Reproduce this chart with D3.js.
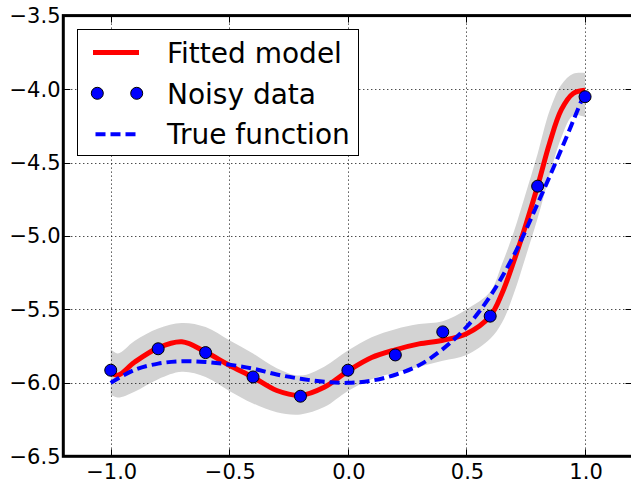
<!DOCTYPE html>
<html>
<head>
<meta charset="utf-8">
<script src="https://cdn.jsdelivr.net/npm/d3@7"></script>
<style>
  html, body { margin: 0; padding: 0; background: #fff; }
  svg { display: block; font-family: "DejaVu Sans", sans-serif; }
</style>
</head>
<body>
<script>
// noisy observations
var dataX = [-1.0, -0.8, -0.6, -0.4, -0.2, 0.0, 0.2, 0.4, 0.6, 0.8, 1.0];
var dataY = [-5.914, -5.768, -5.794, -5.960, -6.091, -5.914, -5.810, -5.653, -5.546, -4.661, -4.052];

// fitted model + band
var fitX = [-1.0, -0.97, -0.9, -0.8, -0.7, -0.6, -0.5, -0.4, -0.3, -0.2, -0.1, 0.0, 0.1, 0.2, 0.3, 0.4, 0.5, 0.6, 0.65, 0.7, 0.75, 0.8, 0.85, 0.9, 0.95, 1.0];
var fitY = [-5.930, -5.948, -5.860, -5.762, -5.721, -5.790, -5.880, -5.962, -6.052, -6.085, -6.030, -5.920, -5.828, -5.775, -5.735, -5.710, -5.665, -5.545, -5.390, -5.170, -4.925, -4.660, -4.370, -4.140, -4.030, -4.008];
var bandUpper = [-5.770, -5.800, -5.715, -5.630, -5.592, -5.620, -5.710, -5.800, -5.900, -5.950, -5.890, -5.780, -5.690, -5.635, -5.600, -5.580, -5.500, -5.380, -5.190, -4.970, -4.710, -4.440, -4.150, -3.970, -3.895, -3.890];
var bandLower = [-6.080, -6.100, -6.060, -5.975, -5.925, -5.960, -6.055, -6.140, -6.200, -6.215, -6.165, -6.055, -5.975, -5.930, -5.890, -5.850, -5.810, -5.700, -5.590, -5.390, -5.140, -4.880, -4.590, -4.330, -4.180, -4.190];

// true function
var trueX = [-1.0, -0.9, -0.8, -0.7, -0.6, -0.5, -0.4, -0.3, -0.2, -0.1, 0.0, 0.1, 0.2, 0.3, 0.4, 0.5, 0.6, 0.7, 0.8, 0.9, 1.0];
var trueY = [-6.000, -5.912, -5.869, -5.853, -5.858, -5.876, -5.903, -5.943, -5.972, -5.993, -6.000, -5.985, -5.945, -5.880, -5.770, -5.620, -5.410, -5.130, -4.780, -4.410, -4.018];

var xTicks = [-1.0, -0.5, 0.0, 0.5, 1.0];
var yTicks = [-6.5, -6.0, -5.5, -5.0, -4.5, -4.0, -3.5];
var legendLabels = ["Fitted model", "Noisy data", "True function"];

var W = 631, H = 481;
var svg = d3.select("body").append("svg")
    .attr("width", W)
    .attr("height", H);

var x = d3.scaleLinear().domain([-1.2, 1.2]).range([63.3, 632.5]);
var y = d3.scaleLinear().domain([-6.5, -3.5]).range([456.3, 15.6]);
var x0 = x.range()[0], x1 = x.range()[1];
var y0 = y.range()[0], y1 = y.range()[1];

function fmt(v) {
    return d3.format(".1f")(v).replace("-", "\u2212");
}

// band
var band = d3.area()
    .x(function (d, i) { return x(fitX[i]); })
    .y0(function (d, i) { return y(bandLower[i]); })
    .y1(function (d, i) { return y(bandUpper[i]); })
    .curve(d3.curveCatmullRom);
svg.append("path")
    .datum(fitX)
    .attr("d", band)
    .attr("fill", "#d3d3d3");

// grid
var grid = svg.append("g").attr("stroke", "#000").attr("stroke-width", 1)
    .attr("stroke-dasharray", "1,3");
xTicks.forEach(function (t) {
    grid.append("line")
        .attr("x1", Math.round(x(t)) + 0.5).attr("x2", Math.round(x(t)) + 0.5)
        .attr("y1", y1).attr("y2", y0);
});
yTicks.forEach(function (t) {
    grid.append("line")
        .attr("x1", x0).attr("x2", x1)
        .attr("y1", Math.round(y(t)) + 0.5).attr("y2", Math.round(y(t)) + 0.5);
});

// fitted line
var fitLine = d3.line()
    .x(function (d, i) { return x(fitX[i]); })
    .y(function (d) { return y(d); })
    .curve(d3.curveCatmullRom);
svg.append("path")
    .datum(fitY)
    .attr("d", fitLine)
    .attr("fill", "none")
    .attr("stroke", "#ff0000")
    .attr("stroke-width", 5);

// true function, dashed
var trueLine = d3.line()
    .x(function (d, i) { return x(trueX[i]); })
    .y(function (d) { return y(d); })
    .curve(d3.curveCatmullRom);
svg.append("path")
    .datum(trueY)
    .attr("d", trueLine)
    .attr("fill", "none")
    .attr("stroke", "#0000ff")
    .attr("stroke-width", 4)
    .attr("stroke-dasharray", "10,5");

// noisy points
svg.selectAll(".pt")
    .data(dataY)
    .enter()
    .append("circle")
    .attr("class", "pt")
    .attr("cx", function (d, i) { return x(dataX[i]); })
    .attr("cy", function (d) { return y(d); })
    .attr("r", 6)
    .attr("fill", "#0000ff")
    .attr("stroke", "#000")
    .attr("stroke-width", 1);

// ticks (inward, all four sides)
var ticks = svg.append("g").attr("stroke", "#000").attr("stroke-width", 1);
xTicks.forEach(function (t) {
    var px = Math.round(x(t)) + 0.5;
    ticks.append("line").attr("x1", px).attr("x2", px).attr("y1", y0).attr("y2", y0 - 7);
    ticks.append("line").attr("x1", px).attr("x2", px).attr("y1", y1).attr("y2", y1 + 7);
});
yTicks.forEach(function (t) {
    var py = Math.round(y(t)) + 0.5;
    ticks.append("line").attr("x1", x0).attr("x2", x0 + 7).attr("y1", py).attr("y2", py);
    ticks.append("line").attr("x1", x1).attr("x2", x1 - 7).attr("y1", py).attr("y2", py);
});

// spines
svg.append("rect")
    .attr("x", x0).attr("y", y1)
    .attr("width", x1 - x0).attr("height", y0 - y1)
    .attr("fill", "none")
    .attr("stroke", "#000")
    .attr("stroke-width", 3);

// tick labels
svg.selectAll(".xl")
    .data(xTicks)
    .enter()
    .append("text")
    .attr("class", "xl")
    .attr("x", function (d) { return x(d) + 1; })
    .attr("y", 478.5)
    .attr("text-anchor", "middle")
    .attr("font-size", 21)
    .text(fmt);
svg.selectAll(".yl")
    .data(yTicks)
    .enter()
    .append("text")
    .attr("class", "yl")
    .attr("x", 60.5)
    .attr("y", function (d) { return y(d) + 7.5; })
    .attr("text-anchor", "end")
    .attr("font-size", 21)
    .text(fmt);

// legend
var lg = svg.append("g");
lg.append("rect")
    .attr("x", 77.5).attr("y", 29.5)
    .attr("width", 281).attr("height", 126)
    .attr("fill", "#fff")
    .attr("stroke", "#000")
    .attr("stroke-width", 1);
lg.append("line")
    .attr("x1", 93).attr("x2", 139).attr("y1", 52.5).attr("y2", 52.5)
    .attr("stroke", "#ff0000").attr("stroke-width", 5);
[97.3, 136.7].forEach(function (cx) {
    lg.append("circle")
        .attr("cx", cx).attr("cy", 93.3).attr("r", 6)
        .attr("fill", "#0000ff").attr("stroke", "#000").attr("stroke-width", 1);
});
lg.append("line")
    .attr("x1", 95.5).attr("x2", 139).attr("y1", 134.3).attr("y2", 134.3)
    .attr("stroke", "#0000ff").attr("stroke-width", 4)
    .attr("stroke-dasharray", "10,5");
var baselines = [63.3, 103.6, 144];
lg.selectAll(".lt")
    .data(legendLabels)
    .enter()
    .append("text")
    .attr("class", "lt")
    .attr("x", 167)
    .attr("y", function (d, i) { return baselines[i]; })
    .attr("font-size", 28)
    .text(function (d) { return d; });
</script>
</body>
</html>
